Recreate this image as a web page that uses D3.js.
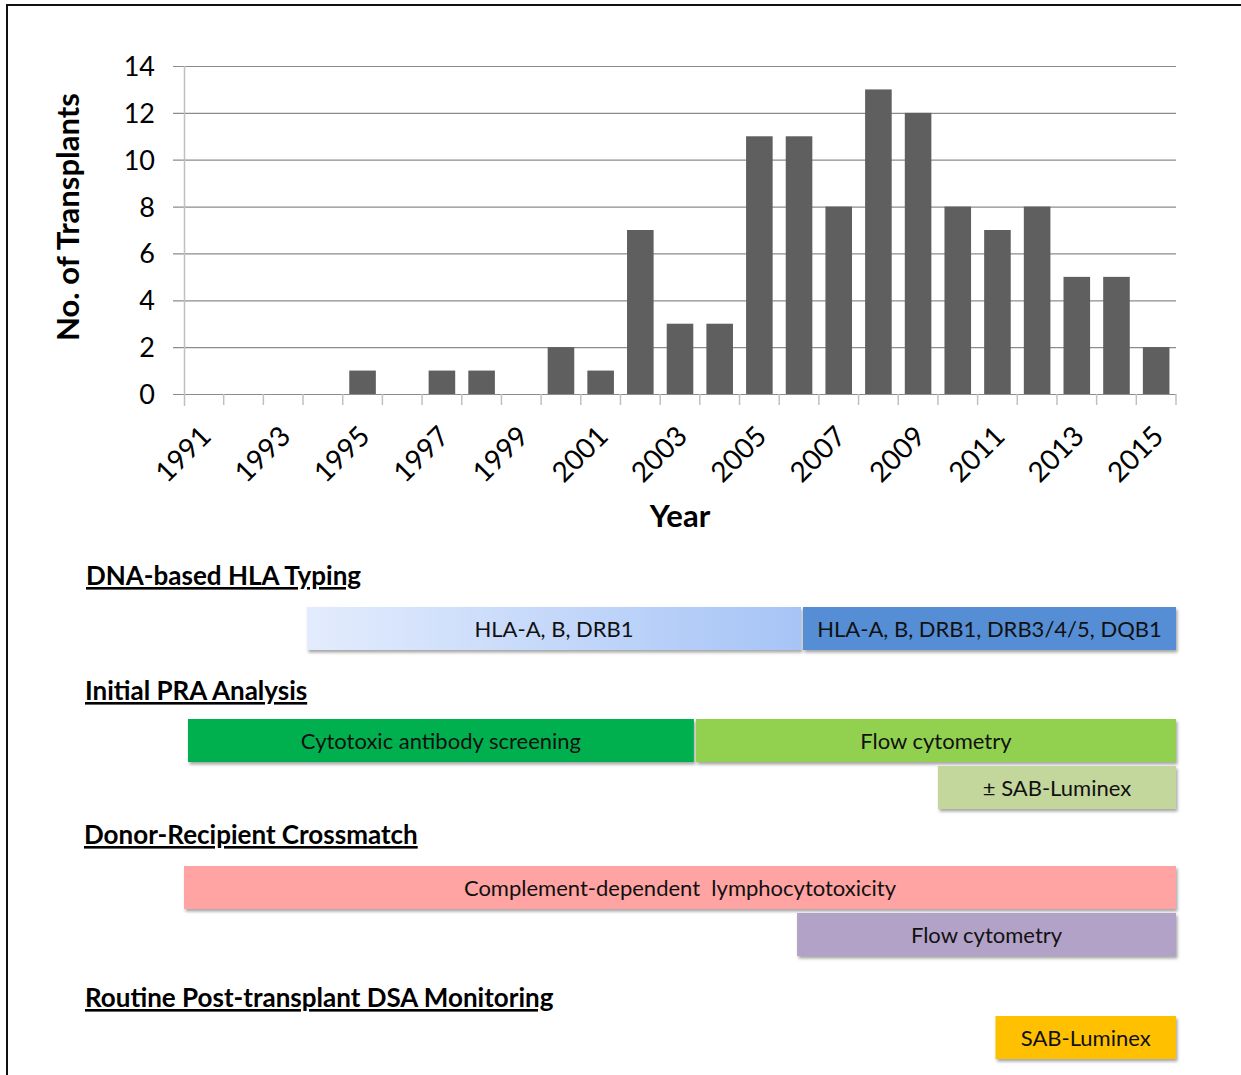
<!DOCTYPE html>
<html>
<head>
<meta charset="utf-8">
<script src="https://cdn.jsdelivr.net/npm/d3@7"></script>
<style>
  body { margin: 0; background: #fff; }
  svg { display: block; font-family: Lato, "Open Sans", sans-serif; }
</style>
</head>
<body>
<svg id="chart" width="1241" height="1075"></svg>
<script>
// bar chart data
var years = d3.range(1991, 2016);
var transplants = [0, 0, 0, 0, 1, 0, 1, 1, 0, 2, 1, 7, 3, 3, 11, 11, 8, 13, 12, 8, 7, 8, 5, 5, 2];
var yTicks = [0, 2, 4, 6, 8, 10, 12, 14];
var xTickLabels = ['1991', '1993', '1995', '1997', '1999', '2001', '2003', '2005', '2007', '2009', '2011', '2013', '2015'];

// timeline sections
var sections = ['DNA-based HLA Typing', 'Initial PRA Analysis', 'Donor-Recipient Crossmatch', 'Routine Post-transplant DSA Monitoring'];
var spanLabels = ['HLA-A, B, DRB1', 'HLA-A, B, DRB1, DRB3/4/5, DQB1', 'Cytotoxic antibody screening', 'Flow cytometry',
  '\u00B1 SAB-Luminex', 'Complement-dependent  lymphocytotoxicity', 'Flow cytometry', 'SAB-Luminex'];
var spanStart = [1994.1, 2006.6, 1991.1, 2003.9, 2010.0, 1991.0, 2006.45, 2011.45];
var spanEnd = [2006.55, 2016.0, 2003.85, 2016.0, 2016.0, 2016.0, 2016.0, 2016.0];
var spanSection = [0, 0, 1, 1, 1, 2, 2, 3];
var spanRow = [0, 0, 0, 0, 1, 0, 1, 0];

var svg = d3.select('#chart');

// frame
svg.append('path')
  .attr('d', 'M7,1075 V5 H1241')
  .attr('fill', 'none')
  .attr('stroke', '#111')
  .attr('stroke-width', 2);

var plotLeft = 184, plotRight = 1176, plotTop = 66, plotBottom = 394;

var x = d3.scaleBand()
  .domain(years)
  .range([plotLeft, plotRight])
  .paddingInner(0.33)
  .paddingOuter(0.165);

var y = d3.scaleLinear()
  .domain([0, 14])
  .range([plotBottom, plotTop]);

// year scale for timeline spans (left edge of each category band)
var yearX = d3.scaleLinear()
  .domain([1991, 2016])
  .range([plotLeft, plotRight]);

// gridlines
svg.append('g')
  .selectAll('line')
  .data(yTicks)
  .enter()
  .append('line')
  .attr('x1', plotLeft - 11)
  .attr('x2', plotRight)
  .attr('y1', function(d) { return y(d) + 0.5; })
  .attr('y2', function(d) { return y(d) + 0.5; })
  .attr('stroke', '#8c8c8c')
  .attr('stroke-width', 1.2);

// vertical axis line
svg.append('line')
  .attr('x1', plotLeft + 0.5)
  .attr('x2', plotLeft + 0.5)
  .attr('y1', plotTop)
  .attr('y2', plotBottom + 12)
  .attr('stroke', '#c0c0c0')
  .attr('stroke-width', 1.5);

// category tick marks (between bands)
svg.append('g')
  .selectAll('line')
  .data(d3.range(1992, 2017))
  .enter()
  .append('line')
  .attr('x1', function(d) { return yearX(d); })
  .attr('x2', function(d) { return yearX(d); })
  .attr('y1', plotBottom)
  .attr('y2', plotBottom + 11)
  .attr('stroke', '#c0c0c0')
  .attr('stroke-width', 1.5);

// y tick labels
svg.append('g')
  .selectAll('text')
  .data(yTicks)
  .enter()
  .append('text')
  .attr('x', 155)
  .attr('y', function(d) { return y(d) + 10; })
  .attr('text-anchor', 'end')
  .attr('font-size', 27)
  .attr('fill', '#000')
  .text(function(d) { return d; });

// bars
svg.append('g')
  .selectAll('rect')
  .data(years.map(function(yr, i) { return { year: yr, value: transplants[i] }; }))
  .enter()
  .append('rect')
  .attr('x', function(d) { return x(d.year); })
  .attr('width', x.bandwidth())
  .attr('y', function(d) { return y(d.value); })
  .attr('height', function(d) { return plotBottom - y(d.value); })
  .attr('fill', '#5f5f5f');

// x tick labels (rotated)
svg.append('g')
  .selectAll('text')
  .data(xTickLabels)
  .enter()
  .append('text')
  .attr('transform', function(d) {
    var cx = x(+d) + x.bandwidth() / 2 + 9;
    return 'translate(' + cx + ',' + 438 + ') rotate(-45)';
  })
  .attr('text-anchor', 'end')
  .attr('font-size', 28)
  .attr('fill', '#000')
  .text(function(d) { return d; });

// axis titles
svg.append('text')
  .attr('transform', 'translate(79,217) rotate(-90)')
  .attr('text-anchor', 'middle')
  .attr('font-size', 31)
  .attr('font-weight', 'bold')
  .text('No. of Transplants');

svg.append('text')
  .attr('x', 680)
  .attr('y', 527)
  .attr('text-anchor', 'middle')
  .attr('font-size', 31)
  .attr('font-weight', 'bold')
  .text('Year');

// timeline
var defs = svg.append('defs');
var grad = defs.append('linearGradient').attr('id', 'hlaGrad');
grad.append('stop').attr('offset', '0%').attr('stop-color', '#e3ecfd');
grad.append('stop').attr('offset', '100%').attr('stop-color', '#a6c4f6');

var shadow = defs.append('filter').attr('id', 'shadow')
  .attr('x', '-5%').attr('y', '-20%').attr('width', '110%').attr('height', '150%');
shadow.append('feDropShadow')
  .attr('dx', 1.5).attr('dy', 2.5).attr('stdDeviation', 1.8)
  .attr('flood-color', '#000').attr('flood-opacity', 0.35);

var spanColors = ['url(#hlaGrad)', '#558ed5', '#00b050', '#92d050', '#c3d69b', '#ffa3a3', '#b3a2c7', '#ffc000'];
var sectionTitleY = [585, 700, 844, 1007];
var sectionTitleX = [86, 85, 84, 85];
var sectionBoxTop = [607, 719, 866, 1016];
var boxH = 43, rowGap = 47;

var titles = svg.append('g')
  .selectAll('text')
  .data(sections)
  .enter()
  .append('text')
  .attr('x', function(d, i) { return sectionTitleX[i]; })
  .attr('y', function(d, i) { return sectionTitleY[i]; })
  .attr('font-size', 26)
  .attr('font-weight', 'bold')
  .attr('text-decoration', 'underline')
  .text(function(d) { return d; });

var spans = spanLabels.map(function(label, i) {
  return {
    label: label,
    start: spanStart[i],
    end: spanEnd[i],
    top: sectionBoxTop[spanSection[i]] + spanRow[i] * rowGap,
    color: spanColors[i]
  };
});

var sg = svg.append('g')
  .selectAll('g')
  .data(spans)
  .enter()
  .append('g');

sg.append('rect')
  .attr('x', function(d) { return yearX(d.start); })
  .attr('width', function(d) { return yearX(d.end) - yearX(d.start); })
  .attr('y', function(d) { return d.top; })
  .attr('height', boxH)
  .attr('fill', function(d) { return d.color; })
  .attr('filter', 'url(#shadow)');

sg.append('text')
  .attr('x', function(d) { return (yearX(d.start) + yearX(d.end)) / 2; })
  .attr('y', function(d) { return d.top + boxH / 2 + 8; })
  .attr('text-anchor', 'middle')
  .attr('font-size', 22)
  .attr('fill', '#111')
  .attr('xml:space', 'preserve')
  .style('white-space', 'pre')
  .text(function(d) { return d.label; });
</script>
</body>
</html>
